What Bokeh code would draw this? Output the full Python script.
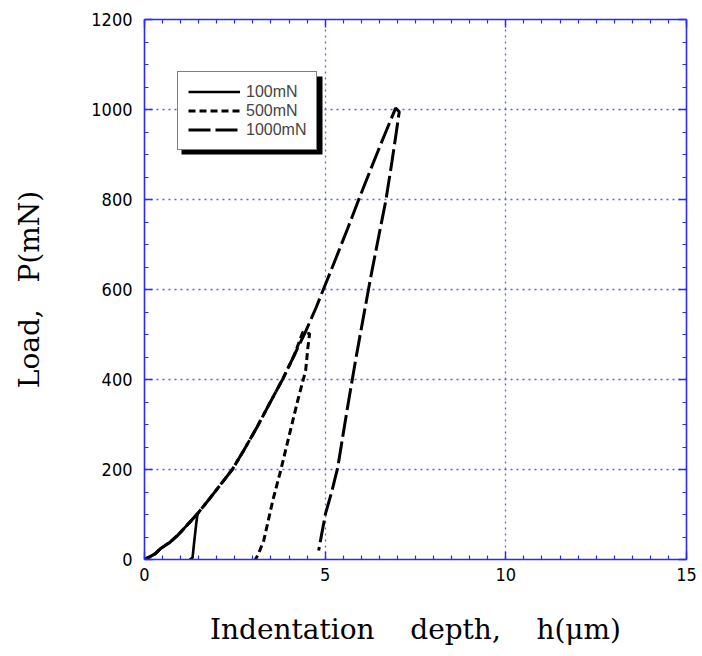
from bokeh.plotting import figure
from bokeh.models import Range1d, LinearAxis, FixedTicker, Legend, LegendItem, BoxAnnotation
from bokeh.embed import file_html
from bokeh.resources import INLINE

# ---- data ----
# 100 mN: loading then unloading
h_100 = [0.0, 0.1, 0.3, 0.44, 0.7, 0.91, 1.22, 1.47, 1.44, 1.41, 1.37, 1.33, 1.25]
p_100 = [0, 4, 13, 24, 38, 53, 80, 102, 85, 64, 35, 4, 0]

# 500 mN: loading then unloading
h_500 = [0.0, 0.1, 0.3, 0.44, 0.7, 0.91, 1.22, 1.47, 1.8, 2.1, 2.43, 2.75, 3.1,
         3.45, 3.82, 4.15, 4.38, 4.57, 4.52, 4.46, 4.24, 3.99, 3.77, 3.55, 3.3, 3.15, 3.07]
p_500 = [0, 4, 13, 24, 38, 53, 80, 102, 135, 166, 200, 243, 292,
         345, 400, 455, 505, 502, 470, 420, 353, 271, 198, 131, 42, 12, 0]

# 1000 mN: loading then unloading
h_1000 = [0.0, 0.1, 0.3, 0.44, 0.7, 0.91, 1.22, 1.47, 1.8, 2.1, 2.43, 2.75, 3.1,
          3.45, 3.82, 4.15, 4.45, 4.75, 5.0, 5.3, 5.62, 5.93, 6.25, 6.6, 6.95,
          7.05, 6.97, 6.85, 6.68, 6.45, 6.26, 6.05, 5.84, 5.65, 5.5, 5.35, 5.18,
          5.01, 4.9, 4.82]
p_1000 = [0, 4, 13, 24, 38, 53, 80, 102, 135, 166, 200, 243, 292,
          345, 400, 455, 505, 560, 610, 670, 735, 800, 865, 935, 1003,
          995, 950, 885, 798, 705, 627, 535, 442, 353, 280, 205, 150,
          102, 55, 20]

x_ticks = [0, 5, 10, 15]
y_ticks = [0, 200, 400, 600, 800, 1000, 1200]
series_labels = ["100mN", "500mN", "1000mN"]

AXIS_BLUE = "#2a2aff"
GRID_BLUE = "#5a5aff"
TICK_FONT = "DejaVu Sans Condensed"
LEG_FONT = "Liberation Sans"
LABEL_FONT = "DejaVu Serif"

p = figure(width=702, height=656, output_backend="svg", toolbar_location=None,
           x_range=Range1d(0, 15), y_range=Range1d(0, 1200),
           min_border_left=144, min_border_right=16, min_border_top=19,
           min_border_bottom=97, background_fill_color="white",
           border_fill_color="white", outline_line_color=None)

# curves
r100 = p.line(h_100, p_100, line_color="black", line_width=2.6)
r500 = p.line(h_500, p_500, line_color="black", line_width=3, line_dash="7 4")
r1000 = p.line(h_1000, p_1000, line_color="black", line_width=3, line_dash="22 5")


def style_axis(ax, show_labels=True):
    ax.axis_line_color = AXIS_BLUE
    ax.axis_line_width = 1.6
    ax.major_tick_line_color = AXIS_BLUE
    ax.minor_tick_line_color = AXIS_BLUE
    ax.major_tick_line_width = 1.4
    ax.minor_tick_line_width = 1.2
    ax.major_tick_in = 8
    ax.major_tick_out = 0
    ax.minor_tick_in = 4
    ax.minor_tick_out = 0
    ax.major_label_text_font = TICK_FONT
    ax.major_label_text_font_size = "18px"
    ax.major_label_text_color = "black"
    if not show_labels:
        ax.major_label_text_alpha = 0
        ax.major_label_text_font_size = "1px"
        ax.major_label_standoff = 0


x_minor = [i * 0.5 for i in range(31)]
y_minor = [i * 50 for i in range(25)]

p.xaxis.ticker = FixedTicker(ticks=x_ticks, minor_ticks=x_minor)
p.yaxis.ticker = FixedTicker(ticks=y_ticks, minor_ticks=y_minor)
for ax in p.xaxis + p.yaxis:
    style_axis(ax)
p.xaxis.major_label_standoff = 8
p.yaxis.major_label_standoff = 12

p.xaxis.axis_label = ("Indentation" + "\u00a0" * 4 + "depth," + "\u00a0" * 4 + "h(\u03bcm)")
p.yaxis.axis_label = ("Load," + "\u00a0" * 3 + "P(mN)")
for ax in p.xaxis + p.yaxis:
    ax.axis_label_text_font = LABEL_FONT
    ax.axis_label_text_font_style = "normal"
    ax.axis_label_text_font_size = "28px"
    ax.axis_label_text_color = "black"
p.xaxis.axis_label_standoff = 29
p.yaxis.axis_label_standoff = 42

top = LinearAxis(ticker=FixedTicker(ticks=x_ticks, minor_ticks=x_minor))
right = LinearAxis(ticker=FixedTicker(ticks=y_ticks, minor_ticks=y_minor))
style_axis(top, False)
style_axis(right, False)
p.add_layout(top, "above")
p.add_layout(right, "right")

# grid
p.xgrid.ticker = FixedTicker(ticks=[5, 10])
p.ygrid.ticker = FixedTicker(ticks=[200, 400, 600, 800, 1000])
for g in (p.xgrid, p.ygrid):
    g.grid_line_color = GRID_BLUE
    g.grid_line_width = 1.3
    g.grid_line_dash = "2 4"

# legend shadow
shadow = BoxAnnotation(left=37, right=178, bottom=405, top=483,
                       left_units="screen", right_units="screen",
                       bottom_units="screen", top_units="screen",
                       fill_color="black", fill_alpha=1.0, line_color=None)
p.add_layout(shadow)

legend = Legend(items=[LegendItem(label=series_labels[0], renderers=[r100]),
                       LegendItem(label=series_labels[1], renderers=[r500]),
                       LegendItem(label=series_labels[2], renderers=[r1000])],
                location=(33, 409), orientation="vertical",
                border_line_color="black", border_line_width=1.2,
                background_fill_color="white", background_fill_alpha=1.0,
                label_text_font=LEG_FONT, label_text_font_size="16px",
                glyph_width=52, glyph_height=19, label_height=19,
                label_standoff=6, spacing=0, padding=10, margin=0)
p.add_layout(legend)

open("out.html", "w").write(file_html(p, INLINE))
